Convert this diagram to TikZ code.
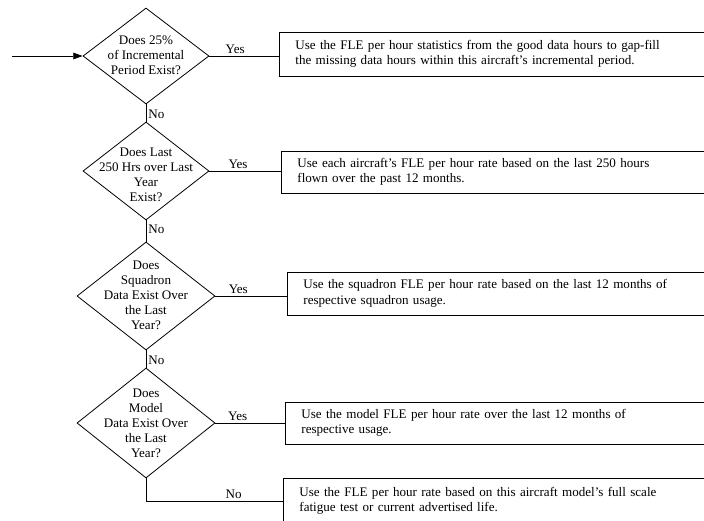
\documentclass[tikz,border=0pt]{standalone}
\usepackage{fontspec}
\setmainfont{Liberation Serif}
\usetikzlibrary{shapes.geometric,arrows.meta}
\begin{document}
\begin{tikzpicture}[x=0.75pt,y=-0.75pt,
  every node/.style={font=\fontsize{9.8}{11.6}\selectfont},
  dia/.style={diamond,draw,inner sep=0pt,line width=0.6pt},
  dtext/.style={align=center,inner sep=0pt,font=\fontsize{9.8}{11.2}\selectfont},
  resbox/.style={draw,line width=0.6pt,anchor=west,align=left,text width=310pt,inner xsep=12pt,minimum height=32pt},
  conn/.style={line width=0.6pt},
  lbl/.style={inner sep=1.5pt}]
\useasboundingbox (0,0) rectangle (704,521);
% diamonds
\node[dia,minimum width=94.5pt,minimum height=72pt] (d1) at (146,56) {};
\node[dtext] (t1) at (146,55) {Does 25\%\\of Incremental\\Period Exist?};
\node[dia,minimum width=94.5pt,minimum height=73.5pt] (d2) at (146,171) {};
\node[dtext] (t2) at (146,175) {Does Last\\250 Hrs over Last\\Year\\Exist?};
\node[dia,minimum width=103.5pt,minimum height=81pt] (d3) at (146,296) {};
\node[dtext] (t3) at (146,295) {Does\\Squadron\\Data Exist Over\\the Last\\Year?};
\node[dia,minimum width=103.5pt,minimum height=82.5pt] (d4) at (146,423) {};
\node[dtext] (t4) at (146,423) {Does\\Model\\Data Exist Over\\the Last\\Year?};
% result boxes
\node[resbox,minimum height=33pt] (b1) at (279,54) {Use the FLE per hour statistics from the good data hours to gap-fill\\the missing data hours within this aircraft's incremental period.};
\node[resbox,minimum height=31.5pt] (b2) at (281,172) {Use each aircraft's FLE per hour rate based on the last 250 hours\\flown over the past 12 months.};
\node[resbox,minimum height=32.25pt] (b3) at (287,293.5) {Use the squadron FLE per hour rate based on the last 12 months of\\respective squadron usage.};
\node[resbox,minimum height=31.5pt] (b4) at (285,423) {Use the model FLE per hour rate over the last 12 months of\\respective usage.};
\node[resbox,minimum height=34.5pt] (b5) at (283,501) {Use the FLE per hour rate based on this aircraft model's full scale\\fatigue test or current advertised life.};
% entry arrow
\coordinate (start) at (12,56);
\draw[conn,-{Triangle[length=7pt,width=5pt]}] (start) -- (d1.west);
% yes connectors
\draw[conn] (d1.east) -- node[lbl,above,pos=0.37] {Yes} (d1.east -| b1.west);
\draw[conn] (d2.east) -- node[lbl,above,pos=0.4] {Yes} (d2.east -| b2.west);
\draw[conn] (d3.east) -- node[lbl,above,pos=0.32] {Yes} (d3.east -| b3.west);
\draw[conn] (d4.east) -- node[lbl,above,pos=0.32] {Yes} (d4.east -| b4.west);
% no connectors
\draw[conn] (d1.south) -- node[lbl,right,pos=0.6] {No} (d2.north);
\draw[conn] (d2.south) -- node[lbl,right,pos=0.4] {No} (d3.north);
\draw[conn] (d3.south) -- node[lbl,right,pos=0.55] {No} (d4.north);
\draw[conn] (d4.south) |- node[lbl,above,pos=0.82] {No} (b5.west);
\end{tikzpicture}
\end{document}
